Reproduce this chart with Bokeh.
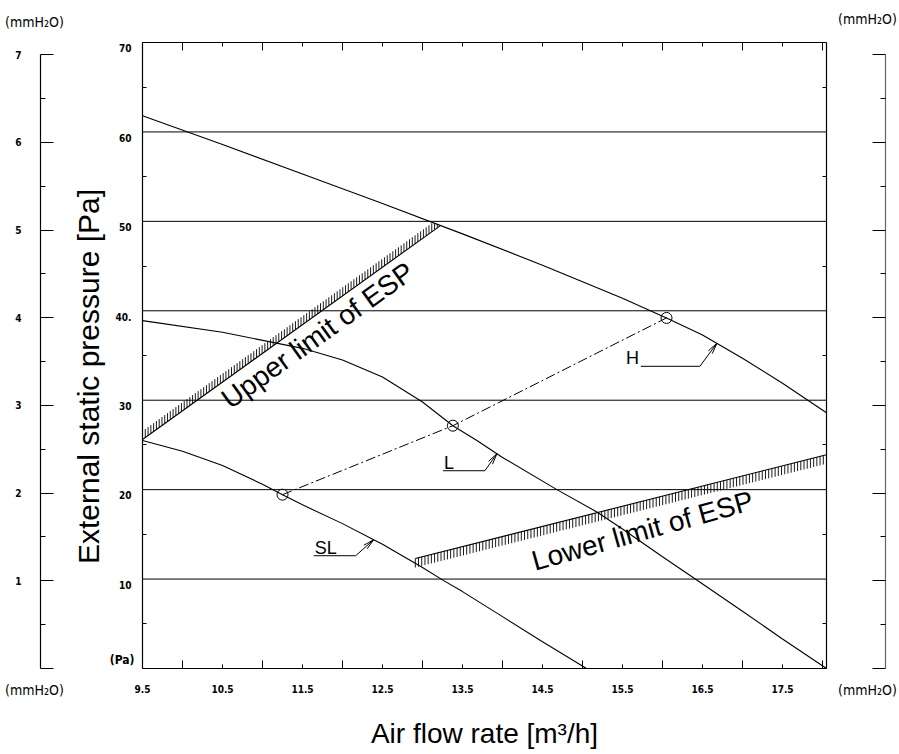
import math
import numpy as np
from bokeh.plotting import figure
from bokeh.models import LinearAxis, Range1d, FixedTicker
from bokeh.core.properties import value
from bokeh.embed import file_html
from bokeh.resources import INLINE

# ---------------- data ----------------
X_START, X_END = 9.5, 18.05
PA_MAX = 70.0
PA_PER_MMH2O = 9.80665

X_LABEL_TICKS = [9.5, 10.5, 11.5, 12.5, 13.5, 14.5, 15.5, 16.5, 17.5]
X_INT_TICKS = [10, 11, 12, 13, 14, 15, 16, 17, 18]
PA_GRID = [10, 20, 30, 40, 50, 60]
PA_LABEL_TICKS = [10, 20, 30, 40, 50, 60, 70]
PA_LABEL_TEXT = {40: "40."}
PA_UNIT_LABEL = "(Pa)"
PA_UNIT_AT = 1.0
PA_HALF_TICKS = [5, 15, 25, 35, 45, 55, 65]
MM_TICKS = [0, 1, 2, 3, 4, 5, 6, 7]
MM_HALF_TICKS = [0.5, 1.5, 2.5, 3.5, 4.5, 5.5, 6.5]
MM_UNIT_LABEL = "(mmH\u2082O)"
X_TITLE = "Air flow rate [m\u00b3/h]"
Y_TITLE = "External static pressure [Pa]"

H_X = [9.5, 10.5, 11.5, 12.5, 13.5, 14.5, 15.5, 16.05, 16.5, 17.0, 17.5, 18.05]
H_Y = [61.8, 58.6, 55.3, 52.0, 48.6, 45.1, 41.4, 39.2, 37.3, 34.7, 31.9, 28.6]
L_X = [9.5, 10.5, 11.5, 12.0, 12.5, 13.0, 13.38, 13.68, 14.0, 14.68, 15.18, 15.5, 16.0, 16.41, 17.0, 17.5, 18.05]
L_Y = [38.9, 37.6, 35.8, 34.5, 32.6, 29.8, 27.15, 25.5, 23.6, 20.0, 17.5, 15.6, 12.5, 10.0, 6.4, 3.3, 0.0]
SL_X = [9.5, 10.0, 10.5, 11.0, 11.25, 11.5, 12.0, 12.39, 12.5, 13.0, 13.27, 13.5, 14.0, 14.5, 15.05]
SL_Y = [25.5, 24.3, 22.7, 20.6, 19.44, 18.3, 16.2, 14.4, 13.9, 11.3, 9.8, 8.6, 5.8, 3.0, 0.0]

OP_X = [11.25, 13.38, 16.05]      # operating points on SL, L, H
OP_Y = [19.44, 27.15, 39.2]

UPPER_X = [9.5, 13.22]
UPPER_Y = [25.6, 49.5]
LOWER_X = [12.91, 18.05]
LOWER_Y = [12.3, 23.9]
UPPER_TEXT = "Upper limit of ESP"
LOWER_TEXT = "Lower limit of ESP"
UPPER_TEXT_AT = (11.69, 37.25)
LOWER_TEXT_AT = (15.75, 15.4)

TAGS = ["H", "L", "SL"]
TAG_TIP_X = [16.68, 13.93, 12.39]

# ---------------- layout / style ----------------
W, H = 899, 752
BOX_LEFT_PX, BOX_BOTTOM_PX = 142, 668      # where the chart box sits on the canvas
BOX_W_PX, BOX_H_PX = 684, 626
MM_LEFT_GAP_PX = 102                       # mmH2O scale distance from the box, left
MM_RIGHT_GAP_PX = 59                       # ... and right
LABEL_SHIFT_PX = 5.8                       # Pa labels hang just below their lines
NARROW = "Liberation Sans Narrow, DejaVu Sans Condensed, sans-serif"
SANS = "Liberation Sans"

sx = BOX_W_PX / (X_END - X_START)
sy = BOX_H_PX / PA_MAX
x0_data = X_START - BOX_LEFT_PX / sx
x1_data = X_START + (W - BOX_LEFT_PX) / sx
y0_data = -(H - BOX_BOTTOM_PX) / sy
y1_data = BOX_BOTTOM_PX / sy
shift = LABEL_SHIFT_PX / sy

p = figure(width=W, height=H, x_range=Range1d(x0_data, x1_data), y_range=Range1d(y0_data, y1_data),
           output_backend="svg", toolbar_location=None,
           x_axis_location=None, y_axis_location=None)
p.min_border = 0
p.min_border_left = 0
p.min_border_right = 0
p.min_border_top = 0
p.min_border_bottom = 0
p.xgrid.visible = False
p.ygrid.visible = False
p.outline_line_color = None
p.background_fill_color = "white"
p.border_fill_color = "white"

p.extra_y_ranges = {
    "mm": Range1d(y0_data / PA_PER_MMH2O, y1_data / PA_PER_MMH2O),
    "palab": Range1d(y0_data + shift, y1_data + shift),
}

def style(ax, labels=True, size="10px"):
    ax.major_label_text_font = NARROW
    ax.major_label_text_font_style = "bold"
    ax.major_label_text_font_size = size
    ax.major_label_text_color = "black" if labels else None
    ax.axis_line_color = "black"
    ax.axis_line_width = 1.2
    ax.major_tick_line_color = "black"
    ax.minor_tick_line_color = "black"
    return ax

def bare(ax):
    ax.axis_line_color = None
    ax.major_tick_line_color = None
    ax.minor_tick_line_color = None
    return ax

# --- left: Pa scale (box edge), its labels, unit, mmH2O scale ---
pa_left = style(LinearAxis(fixed_location=X_START, bounds=(0, PA_MAX),
                           ticker=FixedTicker(ticks=PA_HALF_TICKS),
                           major_tick_in=4, major_tick_out=0, minor_tick_in=0, minor_tick_out=0,
                           major_label_standoff=0), labels=False)
lab_left = bare(style(LinearAxis(fixed_location=X_START, y_range_name="palab",
                                 ticker=FixedTicker(ticks=PA_LABEL_TICKS),
                                 major_label_overrides=PA_LABEL_TEXT,
                                 major_tick_in=0, major_tick_out=0, minor_tick_in=0, minor_tick_out=0,
                                 major_label_standoff=11,
                                 axis_label=Y_TITLE, axis_label_standoff=8,
                                 axis_label_text_font=SANS, axis_label_text_font_style="normal",
                                 axis_label_text_font_size="30px", axis_label_text_color="black")))
unit_left = bare(style(LinearAxis(fixed_location=X_START, bounds=(0, PA_MAX),
                                  ticker=FixedTicker(ticks=[PA_UNIT_AT]),
                                  major_label_overrides={PA_UNIT_AT: PA_UNIT_LABEL},
                                  major_tick_in=0, major_tick_out=0, minor_tick_in=0, minor_tick_out=0,
                                  major_label_standoff=8), size="12px"))
mm_left = style(LinearAxis(fixed_location=X_START - MM_LEFT_GAP_PX / sx, y_range_name="mm",
                           bounds=(0, 7), ticker=FixedTicker(ticks=MM_TICKS, minor_ticks=MM_HALF_TICKS),
                           major_tick_in=13, major_tick_out=0, minor_tick_in=5, minor_tick_out=0,
                           major_label_overrides={0: ""}, major_label_standoff=19))
for ax in (pa_left, lab_left, unit_left, mm_left):
    p.add_layout(ax, "left")

# --- right: Pa box edge and mmH2O scale ---
pa_right = style(LinearAxis(fixed_location=X_END, bounds=(0, PA_MAX),
                            ticker=FixedTicker(ticks=PA_HALF_TICKS),
                            major_tick_in=4, major_tick_out=0, minor_tick_in=0, minor_tick_out=0,
                            major_label_standoff=0), labels=False)
mm_right = style(LinearAxis(fixed_location=X_END + MM_RIGHT_GAP_PX / sx, y_range_name="mm",
                            bounds=(0, 7), ticker=FixedTicker(ticks=MM_TICKS, minor_ticks=MM_HALF_TICKS),
                            major_tick_in=13, major_tick_out=0, minor_tick_in=5, minor_tick_out=0,
                            major_label_standoff=0), labels=False)
mm_right.axis_line_color = "#666666"
for ax in (pa_right, mm_right):
    p.add_layout(ax, "right")

# --- bottom / top edges of the box ---
x_bottom = style(LinearAxis(fixed_location=0, bounds=(X_START, X_END),
                            ticker=FixedTicker(ticks=X_LABEL_TICKS, minor_ticks=X_INT_TICKS),
                            major_tick_in=4, major_tick_out=0, minor_tick_in=8, minor_tick_out=0,
                            major_label_standoff=16,
                            axis_label=X_TITLE, axis_label_standoff=22,
                            axis_label_text_font=SANS, axis_label_text_font_style="normal",
                            axis_label_text_font_size="28px", axis_label_text_color="black"))
p.add_layout(x_bottom, "below")
x_top = style(LinearAxis(fixed_location=PA_MAX, bounds=(X_START, X_END),
                         ticker=FixedTicker(ticks=X_LABEL_TICKS, minor_ticks=X_INT_TICKS),
                         major_tick_in=4, major_tick_out=0, minor_tick_in=8, minor_tick_out=0,
                         major_label_standoff=0), labels=False)
p.add_layout(x_top, "above")

# --- horizontal grid lines inside the box ---
p.segment(x0=[X_START] * len(PA_GRID), y0=PA_GRID, x1=[X_END] * len(PA_GRID), y1=PA_GRID,
          line_color="black", line_width=1)

# --- mmH2O unit labels at the four corners ---
ux_l = X_START - 108 / sx
ux_r = X_END + 41 / sx
p.text(x=[ux_l, ux_r, ux_l, ux_r],
       y=[PA_MAX + 21 / sy, PA_MAX + 24 / sy, -21 / sy, -21 / sy],
       text=[MM_UNIT_LABEL] * 4, text_align="center", text_baseline="middle",
       text_font=value(NARROW), text_font_size="14px", text_color="black")

# ---------------- limit hatches ----------------
def hatch(xa, ya, xb, yb, side, spacing, length):
    dxp = (xb - xa) * sx
    dyp = (yb - ya) * sy
    n = int(math.hypot(dxp, dyp) / spacing)
    t = np.linspace(0, 1, n + 1)
    xs = xa + t * (xb - xa)
    ys = ya + t * (yb - ya)
    ye = ys + side * length / sy
    return xs, ys, ye

hx, hy, he = hatch(UPPER_X[0], UPPER_Y[0], UPPER_X[1], UPPER_Y[1], +1, 3.4, 8.5)
he = np.minimum(he, np.interp(hx, H_X, H_Y))
p.segment(x0=hx, y0=hy, x1=hx, y1=he, line_color="black", line_width=0.9)
p.line(UPPER_X, UPPER_Y, line_color="black", line_width=1.1)

lx, ly, le = hatch(LOWER_X[0], LOWER_Y[0], LOWER_X[1], LOWER_Y[1], -1, 3.3, 9.0)
p.segment(x0=lx, y0=ly, x1=lx, y1=le, line_color="black", line_width=0.9)
p.line(LOWER_X, LOWER_Y, line_color="black", line_width=1.1)

# ---------------- fan curves ----------------
for cx, cy in [(H_X, H_Y), (L_X, L_Y), (SL_X, SL_Y)]:
    p.line(cx, cy, line_color="black", line_width=1.1)

p.line(OP_X, OP_Y, line_color="black", line_width=1, line_dash="10 3 2 3")
p.scatter(OP_X, OP_Y, marker="circle", size=11, fill_color=None, line_color="black", line_width=1)

# ---------------- curve tags with leader arrows ----------------
curves = {"H": (H_X, H_Y), "L": (L_X, L_Y), "SL": (SL_X, SL_Y)}
LEADER = {"H": (-17, 23, 59, "right"), "L": (-12, 17, 42, "left"), "SL": (-18, 16, 42, "left")}
lead_xs, lead_ys, head_xs, head_ys = [], [], [], []
for tag, tip_x in zip(TAGS, TAG_TIP_X):
    cx, cy = curves[tag]
    tip_y = float(np.interp(tip_x, cx, cy))
    ex, ey, shelf, side = LEADER[tag]
    elb_x = tip_x + ex / sx
    elb_y = tip_y - ey / sy
    sh_x = elb_x - shelf / sx
    lead_xs.append([sh_x, elb_x, tip_x])
    lead_ys.append([elb_y, elb_y, tip_y])
    dxp, dyp = (tip_x - elb_x) * sx, (tip_y - elb_y) * sy
    d = math.hypot(dxp, dyp)
    ux_, uy_ = dxp / d, dyp / d
    nx_, ny_ = -uy_, ux_
    hl, hw = 11.0, 2.4
    bx, by = -ux_ * hl, -uy_ * hl
    head_xs.append([tip_x + (bx + nx_ * hw) / sx, tip_x, tip_x + (bx - nx_ * hw) / sx])
    head_ys.append([tip_y + (by + ny_ * hw) / sy, tip_y, tip_y + (by - ny_ * hw) / sy])
    t_x = sh_x - 2 / sx if side == "right" else sh_x + 1 / sx
    p.text(x=[t_x], y=[elb_y + 8 / sy], text=[tag], text_align=side, text_baseline="alphabetic",
           text_font=value(SANS), text_font_size="18px", text_color="black")

p.multi_line(lead_xs, lead_ys, line_color="black", line_width=1)
p.multi_line(head_xs, head_ys, line_color="black", line_width=1)

# ---------------- limit texts ----------------
ang_u = math.atan2((UPPER_Y[1] - UPPER_Y[0]) * sy, (UPPER_X[1] - UPPER_X[0]) * sx)
ang_l = math.atan2((LOWER_Y[1] - LOWER_Y[0]) * sy, (LOWER_X[1] - LOWER_X[0]) * sx) + math.radians(1.5)
p.text(x=[UPPER_TEXT_AT[0]], y=[UPPER_TEXT_AT[1]], text=[UPPER_TEXT], angle=ang_u,
       text_align="center", text_baseline="middle", text_font=value(SANS),
       text_font_size="28px", text_color="black")
p.text(x=[LOWER_TEXT_AT[0]], y=[LOWER_TEXT_AT[1]], text=[LOWER_TEXT], angle=ang_l,
       text_align="center", text_baseline="middle", text_font=value(SANS),
       text_font_size="28px", text_color="black")

open("out.html", "w").write(file_html(p, INLINE))
